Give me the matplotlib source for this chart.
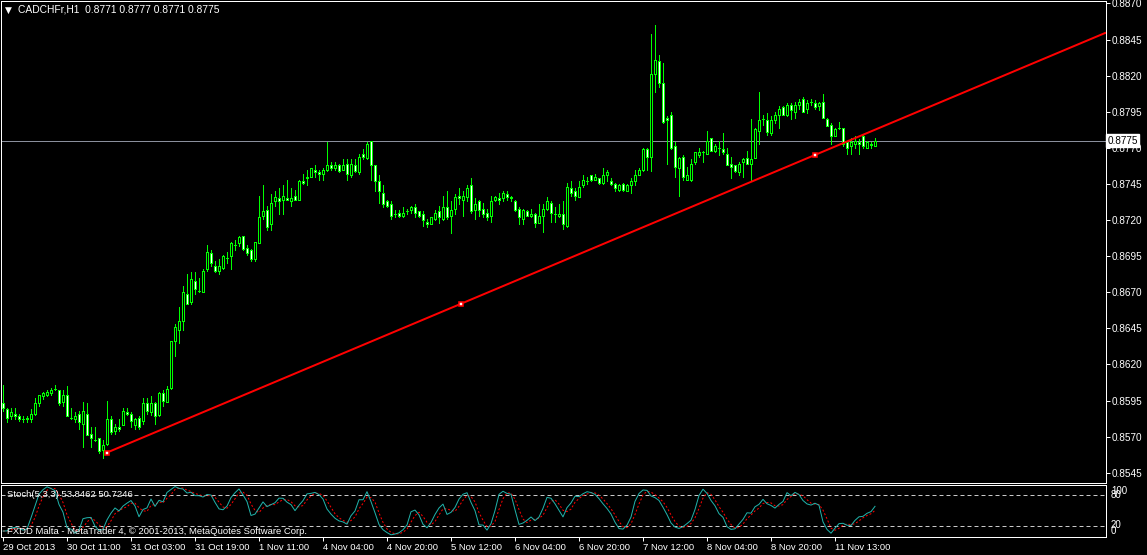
import numpy as np
import pandas as pd
import matplotlib
matplotlib.use("Agg")
import matplotlib.pyplot as plt
import matplotlib.transforms as mtransforms

plt.rcParams["font.family"] = ["Liberation Sans", "DejaVu Sans"]

# hourly CADCHF bars, prices in 1e-4 units
opens = [
    8593, 8589, 8584, 8586, 8584, 8582, 8582, 8582, 8586, 8593, 8598, 8599, 8600, 8603, 8602, 8594,
    8599, 8583, 8582, 8586, 8579, 8586, 8572, 8568, 8569, 8561, 8565, 8582, 8574, 8577, 8578, 8587,
    8586, 8578, 8583, 8581, 8593, 8587, 8593, 8585, 8600, 8594, 8604, 8636, 8644, 8650, 8669, 8663,
    8678, 8671, 8670, 8686, 8697, 8688, 8685, 8687, 8694, 8695, 8703, 8704, 8709, 8701, 8699, 8693,
    8704, 8723, 8727, 8717, 8733, 8735, 8734, 8735, 8733, 8737, 8734, 8747, 8749, 8750, 8755, 8753,
    8752, 8755, 8758, 8756, 8758, 8755, 8759, 8751, 8758, 8753, 8766, 8763, 8775, 8758, 8747, 8739,
    8733, 8731, 8724, 8725, 8723, 8726, 8727, 8729, 8726, 8724, 8719, 8717, 8721, 8726, 8721, 8729,
    8723, 8728, 8737, 8734, 8736, 8744, 8727, 8733, 8728, 8725, 8723, 8734, 8735, 8735, 8738, 8735,
    8733, 8728, 8721, 8726, 8723, 8724, 8718, 8723, 8728, 8732, 8724, 8723, 8724, 8716, 8742, 8740,
    8736, 8744, 8747, 8751, 8748, 8749, 8746, 8751, 8747, 8745, 8741, 8745, 8740, 8744, 8747, 8751,
    8755, 8769, 8764, 8821, 8830, 8815, 8791, 8793, 8771, 8756, 8764, 8748, 8748, 8760, 8765, 8767,
    8766, 8777, 8768, 8770, 8769, 8766, 8759, 8758, 8753, 8760, 8763, 8759, 8763, 8782, 8790, 8789,
    8780, 8789, 8793, 8798, 8793, 8800, 8795, 8800, 8804, 8797, 8802, 8801, 8799, 8802, 8790, 8786,
    8778, 8784, 8784, 8774, 8771, 8773, 8774, 8778, 8770, 8773, 8771,
]
highs = [
    8606, 8590, 8590, 8590, 8586, 8584, 8584, 8589, 8597, 8599, 8601, 8602, 8604, 8606, 8602, 8602,
    8605, 8590, 8587, 8588, 8594, 8593, 8577, 8577, 8569, 8568, 8595, 8584, 8579, 8582, 8590, 8590,
    8587, 8583, 8584, 8597, 8597, 8598, 8594, 8601, 8602, 8605, 8636, 8648, 8660, 8674, 8683, 8684,
    8684, 8680, 8686, 8703, 8699, 8692, 8693, 8696, 8698, 8705, 8706, 8709, 8709, 8703, 8700, 8705,
    8737, 8744, 8730, 8738, 8740, 8742, 8744, 8748, 8742, 8741, 8748, 8752, 8755, 8756, 8758, 8755,
    8756, 8774, 8760, 8760, 8759, 8762, 8762, 8762, 8762, 8766, 8769, 8774, 8775, 8758, 8751, 8744,
    8734, 8733, 8727, 8727, 8729, 8728, 8730, 8731, 8726, 8726, 8721, 8722, 8727, 8730, 8737, 8740,
    8733, 8738, 8742, 8740, 8744, 8749, 8735, 8734, 8732, 8728, 8737, 8737, 8739, 8740, 8740, 8737,
    8734, 8729, 8728, 8727, 8728, 8725, 8731, 8731, 8736, 8733, 8729, 8731, 8733, 8746, 8747, 8742,
    8747, 8751, 8750, 8751, 8752, 8749, 8756, 8755, 8749, 8746, 8745, 8746, 8745, 8749, 8755, 8756,
    8770, 8770, 8849, 8855, 8834, 8829, 8792, 8795, 8774, 8764, 8765, 8757, 8762, 8767, 8770, 8768,
    8782, 8777, 8773, 8775, 8780, 8770, 8764, 8758, 8760, 8763, 8768, 8790, 8784, 8809, 8793, 8794,
    8792, 8795, 8799, 8799, 8801, 8801, 8802, 8804, 8805, 8803, 8804, 8803, 8802, 8807, 8791, 8787,
    8784, 8788, 8784, 8775, 8777, 8778, 8776, 8779, 8775, 8774, 8777,
]
lows = [
    8588, 8580, 8582, 8582, 8581, 8580, 8580, 8580, 8585, 8591, 8596, 8598, 8599, 8602, 8592, 8591,
    8584, 8582, 8580, 8575, 8563, 8571, 8563, 8567, 8559, 8555, 8564, 8572, 8572, 8574, 8578, 8585,
    8577, 8575, 8575, 8579, 8586, 8585, 8579, 8584, 8591, 8594, 8603, 8626, 8635, 8644, 8662, 8662,
    8669, 8670, 8670, 8685, 8688, 8684, 8683, 8686, 8690, 8686, 8699, 8702, 8699, 8696, 8692, 8692,
    8704, 8721, 8713, 8713, 8730, 8724, 8724, 8734, 8730, 8734, 8734, 8745, 8744, 8750, 8750, 8748,
    8748, 8754, 8755, 8755, 8753, 8755, 8748, 8750, 8753, 8752, 8762, 8762, 8748, 8740, 8732, 8729,
    8729, 8721, 8722, 8722, 8722, 8724, 8725, 8722, 8722, 8716, 8715, 8717, 8720, 8718, 8720, 8721,
    8711, 8724, 8731, 8723, 8733, 8725, 8721, 8723, 8722, 8720, 8719, 8733, 8731, 8733, 8734, 8733,
    8726, 8717, 8717, 8723, 8722, 8715, 8718, 8712, 8727, 8719, 8719, 8722, 8714, 8715, 8737, 8734,
    8736, 8743, 8745, 8747, 8748, 8745, 8745, 8747, 8744, 8740, 8740, 8740, 8740, 8739, 8744, 8751,
    8754, 8755, 8754, 8809, 8812, 8787, 8759, 8769, 8750, 8737, 8748, 8748, 8747, 8759, 8764, 8760,
    8766, 8768, 8767, 8765, 8766, 8758, 8749, 8753, 8751, 8750, 8759, 8747, 8763, 8773, 8786, 8779,
    8779, 8787, 8784, 8793, 8792, 8790, 8791, 8797, 8795, 8794, 8800, 8797, 8796, 8791, 8785, 8773,
    8778, 8783, 8771, 8766, 8766, 8770, 8766, 8770, 8770, 8770, 8771,
]
closes = [
    8590, 8583, 8587, 8584, 8582, 8582, 8583, 8586, 8593, 8599, 8600, 8601, 8602, 8603, 8593, 8599,
    8584, 8583, 8584, 8580, 8588, 8571, 8569, 8568, 8560, 8564, 8582, 8573, 8577, 8575, 8588, 8586,
    8581, 8582, 8577, 8593, 8588, 8593, 8584, 8600, 8595, 8603, 8636, 8646, 8650, 8670, 8662, 8679,
    8672, 8671, 8685, 8698, 8690, 8685, 8688, 8695, 8694, 8704, 8703, 8708, 8700, 8697, 8693, 8705,
    8722, 8726, 8715, 8732, 8736, 8733, 8737, 8734, 8735, 8734, 8747, 8746, 8750, 8756, 8753, 8752,
    8755, 8758, 8756, 8758, 8754, 8758, 8752, 8759, 8754, 8764, 8764, 8773, 8758, 8747, 8740, 8731,
    8730, 8723, 8724, 8723, 8725, 8726, 8729, 8725, 8723, 8720, 8717, 8722, 8725, 8722, 8729, 8722,
    8727, 8736, 8735, 8737, 8742, 8726, 8731, 8727, 8724, 8722, 8733, 8736, 8734, 8739, 8736, 8736,
    8727, 8722, 8727, 8723, 8724, 8718, 8723, 8728, 8733, 8725, 8724, 8724, 8717, 8743, 8739, 8737,
    8743, 8748, 8747, 8748, 8750, 8746, 8751, 8753, 8745, 8742, 8744, 8741, 8744, 8747, 8751, 8755,
    8769, 8764, 8821, 8831, 8815, 8788, 8789, 8770, 8757, 8763, 8750, 8751, 8759, 8767, 8767, 8767,
    8775, 8768, 8771, 8770, 8767, 8758, 8757, 8754, 8759, 8762, 8759, 8762, 8783, 8789, 8790, 8781,
    8789, 8793, 8797, 8793, 8800, 8796, 8800, 8802, 8795, 8801, 8802, 8798, 8801, 8791, 8785, 8778,
    8783, 8784, 8773, 8770, 8774, 8775, 8773, 8771, 8774, 8772, 8775,
]

time_labels = ["29 Oct 2013", "30 Oct 11:00", "31 Oct 03:00", "31 Oct 19:00", "1 Nov 11:00",
               "4 Nov 04:00", "4 Nov 20:00", "5 Nov 12:00", "6 Nov 04:00", "6 Nov 20:00",
               "7 Nov 12:00", "8 Nov 04:00", "8 Nov 20:00", "11 Nov 13:00"]
bars_per_label = 16
price_ticks = [0.8870, 0.8845, 0.8820, 0.8795, 0.8770, 0.8745, 0.8720, 0.8695,
               0.8670, 0.8645, 0.8620, 0.8595, 0.8570, 0.8545]
bid = 0.8775
trend_bars = [26, 203]
trend_prices = [0.85590, 0.87651]
stoch_levels = [20, 80]
header = "CADCHFr,H1  0.8771 0.8777 0.8771 0.8775"
stoch_title = "Stoch(5,3,3) 53.8462 50.7246"
copyright_text = "FXDD Malta - MetaTrader 4, \u00a9 2001-2013, MetaQuotes Software Corp."

o = np.array(opens) / 1e4
h = np.array(highs) / 1e4
l = np.array(lows) / 1e4
c = np.array(closes) / 1e4
h = np.maximum(h, np.maximum(o, c))
l = np.minimum(l, np.minimum(o, c))
x = np.arange(len(c))

# stochastic 5,3,3
hh = pd.Series(h).rolling(5, min_periods=1).max()
ll = pd.Series(l).rolling(5, min_periods=1).min()
num = (pd.Series(c) - ll).rolling(3, min_periods=1).sum()
den = (hh - ll).rolling(3, min_periods=1).sum()
k_line = 100 * num / den
d_line = k_line.rolling(3, min_periods=1).mean()

W, H = 1147, 555
PX = 72 / 100  # one pixel in points
LIME = "#00ff00"

fig = plt.figure(figsize=(W / 100, H / 100), dpi=100, facecolor="black")


def px_axes(x0, y0, x1, y1):
    a = fig.add_axes([x0 / W, 1 - y1 / H, (x1 - x0) / W, (y1 - y0) / H])
    a.set_facecolor("black")
    for s in a.spines.values():
        s.set_color("white")
        s.set_linewidth(PX)
    return a


ax = px_axes(1, 1, 1106, 483)
ax2 = px_axes(1, 485, 1106, 537)

xmax = -0.5 + 1105 / 4
for a in (ax, ax2):
    a.set_xlim(-0.5, xmax)

ax.set_ylim(0.887171, 0.853792)
ax.invert_yaxis()
ax2.set_ylim(-0.4, 100.25)

# candles
ax.vlines(x, l, h, color=LIME, linewidth=PX, antialiased=False, zorder=2)
bull = c >= o
body_lo = np.minimum(o, c)
body_h = np.maximum(np.abs(c - o), 1e-7)
ax.bar(x, body_h, bottom=body_lo, width=0.5,
       color=np.where(bull, "black", "white"), edgecolor=LIME,
       linewidth=PX, antialiased=False, zorder=3)

# bid line
ax.axhline(bid, color="#8a8f9c", linewidth=PX, zorder=1)

# trend line (ray to the right edge)
slope = (trend_prices[1] - trend_prices[0]) / (trend_bars[1] - trend_bars[0])
ax.plot([trend_bars[0], xmax], [trend_prices[0], trend_prices[0] + slope * (xmax - trend_bars[0])],
        color="red", linewidth=2 * PX, zorder=4, solid_capstyle="butt")
mid_bar = (trend_bars[0] + trend_bars[1]) / 2
mid_price = (trend_prices[0] + trend_prices[1]) / 2
ax.plot([trend_bars[0], mid_bar, trend_bars[1]], [trend_prices[0], mid_price, trend_prices[1]],
        linestyle="none", marker="s", markersize=5 * PX, markerfacecolor="white",
        markeredgecolor="red", markeredgewidth=1.6 * PX, zorder=5)

# price axis on the right
ax.yaxis.tick_right()
ax.set_yticks(price_ticks)
ax.set_yticklabels([f"{p:.4f}" for p in price_ticks])
ax.tick_params(axis="y", colors="white", labelsize=7.2, length=4 * PX, width=PX, pad=2 * PX)
ax.set_xticks([])
ax.text(1.0 + 1.5 / 1105, bid, f"{bid:.4f}", transform=mtransforms.blended_transform_factory(ax.transAxes, ax.transData),
        fontsize=7.2, color="black", va="center", ha="left", zorder=10,
        bbox=dict(boxstyle="square,pad=0.12", facecolor="white", edgecolor="white"))

# stochastic panel
ax2.plot(x, k_line, color="#20b2aa", linewidth=PX, zorder=3)
ax2.plot(x, d_line, color="red", linewidth=PX, linestyle=(0, (2, 2)), zorder=2)
for lvl in stoch_levels:
    ax2.axhline(lvl, color="#c8c8c8", linewidth=PX, linestyle=(0, (4, 3)), zorder=1)
ax2.set_yticks([])
tr2 = mtransforms.blended_transform_factory(ax2.transAxes, ax2.transData)
for val, pos in [(100, 88), (80, 80), (20, 22), (0, 11)]:
    ax2.text(1.0 + 5 / 1105, pos, str(val), transform=tr2, fontsize=7, color="white",
             va="center", ha="left")

tick_bars = np.arange(len(time_labels)) * bars_per_label
ax2.set_xticks(tick_bars)
ax2.set_xticklabels(time_labels)
ax2.tick_params(axis="x", colors="white", labelsize=6.8, length=4 * PX, width=PX, pad=2 * PX)
for lab in ax2.get_xticklabels():
    lab.set_horizontalalignment("left")

ax2.text(6 / 1105, 81, stoch_title, transform=tr2, fontsize=6.8, color="white", va="center")
ax2.text(6 / 1105, 11, copyright_text, transform=tr2, fontsize=6.8, color="white", va="center")

# header
fig.text(5 / W, 1 - 10 / H, "\u25bc", fontsize=6.5, color="white", va="center", family="DejaVu Sans")
fig.text(18 / W, 1 - 10 / H, header, fontsize=7.4, color="white", va="center")

fig.savefig("out.png", dpi=100, facecolor="black")
